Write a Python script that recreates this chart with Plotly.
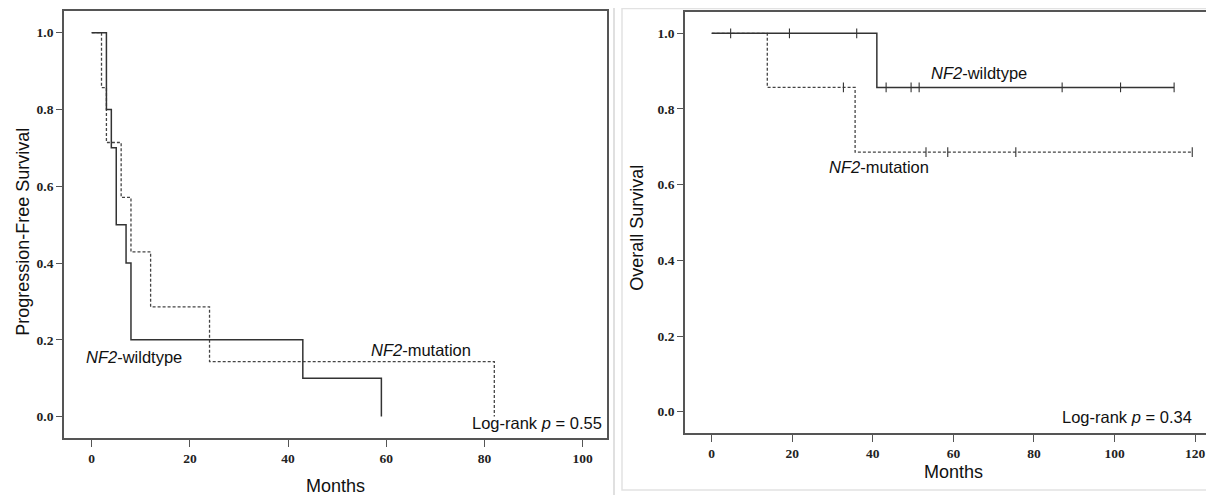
import plotly.graph_objects as go

# ---------------- data ----------------
# Left panel: progression-free survival (event times in months, survival after step)
pfs_wt_t = [0, 3, 4, 5, 7, 8, 43, 59]
pfs_wt_s = [1.0, 0.8, 0.7, 0.5, 0.4, 0.2, 0.1, 0.0]
pfs_mut_t = [0, 2, 3, 6, 8, 12, 24, 82]
pfs_mut_s = [1.0, 0.857, 0.714, 0.571, 0.429, 0.286, 0.143, 0.0]

# Right panel: overall survival
os_wt_t = [0, 41, 114.8]
os_wt_s = [1.0, 0.857, 0.857]
os_wt_cens = [4.7, 19.3, 36, 43.3, 49.5, 51.5, 87, 101.5, 114.8]
os_mut_t = [0, 13.8, 35.6, 119.3]
os_mut_s = [1.0, 0.857, 0.686, 0.686]
os_mut_cens = [32.7, 53.2, 58.6, 75.5, 119.3]

x_ticks_left = [0, 20, 40, 60, 80, 100]
x_ticks_right = [0, 20, 40, 60, 80, 100, 120]
y_ticks = [0.0, 0.2, 0.4, 0.6, 0.8, 1.0]

labels = {
    "pfs_y": "Progression-Free Survival",
    "os_y": "Overall Survival",
    "x": "Months",
    "wt": "<i>NF2</i>-wildtype",
    "mut": "<i>NF2</i>-mutation",
    "p_left": "Log-rank <i>p</i> = 0.55",
    "p_right": "Log-rank <i>p</i> = 0.34",
}

# page body has an 8px margin; the figure is sized to fit the window exactly
OFF = 8
W, H = 1214 - OFF, 495 - OFF


def surv_at(t, times, surv):
    s = surv[0]
    for tt, ss in zip(times, surv):
        if tt <= t:
            s = ss
    return s


def px(x):
    return (x - OFF) / W


def py(y):
    return 1 - (y - OFF) / H


LINE = "#333333"
AX = "#555555"
SANS = "Liberation Sans"

fig = go.Figure()

# Left panel curves
fig.add_trace(go.Scatter(x=pfs_mut_t, y=pfs_mut_s, mode="lines", line_shape="hv",
                         line=dict(color="#444444", width=1.3, dash="3px,2px"),
                         xaxis="x", yaxis="y", showlegend=False))
fig.add_trace(go.Scatter(x=pfs_wt_t, y=pfs_wt_s, mode="lines", line_shape="hv",
                         line=dict(color=LINE, width=1.5),
                         xaxis="x", yaxis="y", showlegend=False))

# Right panel curves
fig.add_trace(go.Scatter(x=os_mut_t, y=os_mut_s, mode="lines", line_shape="hv",
                         line=dict(color="#444444", width=1.3, dash="3px,2px"),
                         xaxis="x2", yaxis="y2", showlegend=False))
fig.add_trace(go.Scatter(x=os_wt_t, y=os_wt_s, mode="lines", line_shape="hv",
                         line=dict(color=LINE, width=1.5),
                         xaxis="x2", yaxis="y2", showlegend=False))
# censor marks
fig.add_trace(go.Scatter(x=os_wt_cens, y=[surv_at(t, os_wt_t, os_wt_s) for t in os_wt_cens],
                         mode="markers",
                         marker=dict(symbol="line-ns", size=7, line=dict(color=LINE, width=1.1)),
                         xaxis="x2", yaxis="y2", showlegend=False))
fig.add_trace(go.Scatter(x=os_mut_cens, y=[surv_at(t, os_mut_t, os_mut_s) for t in os_mut_cens],
                         mode="markers",
                         marker=dict(symbol="line-ns", size=7, line=dict(color=LINE, width=1.1)),
                         xaxis="x2", yaxis="y2", showlegend=False))

tickfont = dict(family="Liberation Serif", size=13.5, color="#222222", weight="bold")

common_x = dict(showgrid=False, zeroline=False, showline=True, linecolor=AX, linewidth=1.8,
                ticks="outside", ticklen=7, tickcolor=AX, tickwidth=1.3, tickfont=tickfont)
common_y = dict(showgrid=False, zeroline=False, showline=True, linecolor=AX, linewidth=1.8,
                ticks="outside", ticklen=6, tickcolor=AX, tickwidth=1.3, tickfont=tickfont,
                tickvals=y_ticks, tickformat=".1f")

fig.update_layout(
    width=W, height=H,
    margin=dict(l=0, r=0, t=0, b=0),
    paper_bgcolor="white", plot_bgcolor="white",
    xaxis=dict(domain=[px(64), px(607)], range=[-5.64, 104.95], tickvals=x_ticks_left,
               mirror=True, anchor="y", **common_x),
    yaxis=dict(domain=[py(437.7), py(11)], range=[-0.055, 1.0565], mirror=True,
               anchor="x", **common_y),
    xaxis2=dict(domain=[px(685), 1.0], range=[-6.63, 124.7], tickvals=x_ticks_right,
                mirror=True, anchor="y2", **common_x),
    yaxis2=dict(domain=[py(432.7), py(12.3)], range=[-0.0555, 1.0555], mirror=False,
                anchor="x2", **common_y),
)

# panel frames
fig.add_shape(type="line", xref="paper", yref="paper", x0=px(614), x1=px(614), y0=0, y1=1,
              line=dict(color="#d6d6d6", width=1.5), layer="below")
fig.add_shape(type="rect", xref="paper", yref="paper", x0=px(622), x1=px(1222), y0=py(490),
              y1=py(8.5), line=dict(color="#e2e2e2", width=1.5), layer="below")


def ann(text, x, y, xanchor="center", size=16.5, angle=0):
    fig.add_annotation(text=text, x=px(x), y=py(y), xref="paper", yref="paper",
                       xanchor=xanchor, yanchor="middle", showarrow=False, textangle=angle,
                       font=dict(family=SANS, size=size, color="#111111"))


ann(labels["wt"], 134, 357)
ann(labels["mut"], 421, 350)
ann(labels["p_left"], 604, 423.3, xanchor="right")
ann(labels["wt"], 978.7, 72.7)
ann(labels["mut"], 878.8, 166.7)
ann(labels["p_right"], 1194, 416.7, xanchor="right")
ann(labels["x"], 335, 485.5, size=18)
ann(labels["x"], 953.3, 471.7, size=18)
ann(labels["pfs_y"], 22.3, 231.5, size=18, angle=-90)
ann(labels["os_y"], 636.7, 228, size=18, angle=-90)

fig.write_html("out.html")
